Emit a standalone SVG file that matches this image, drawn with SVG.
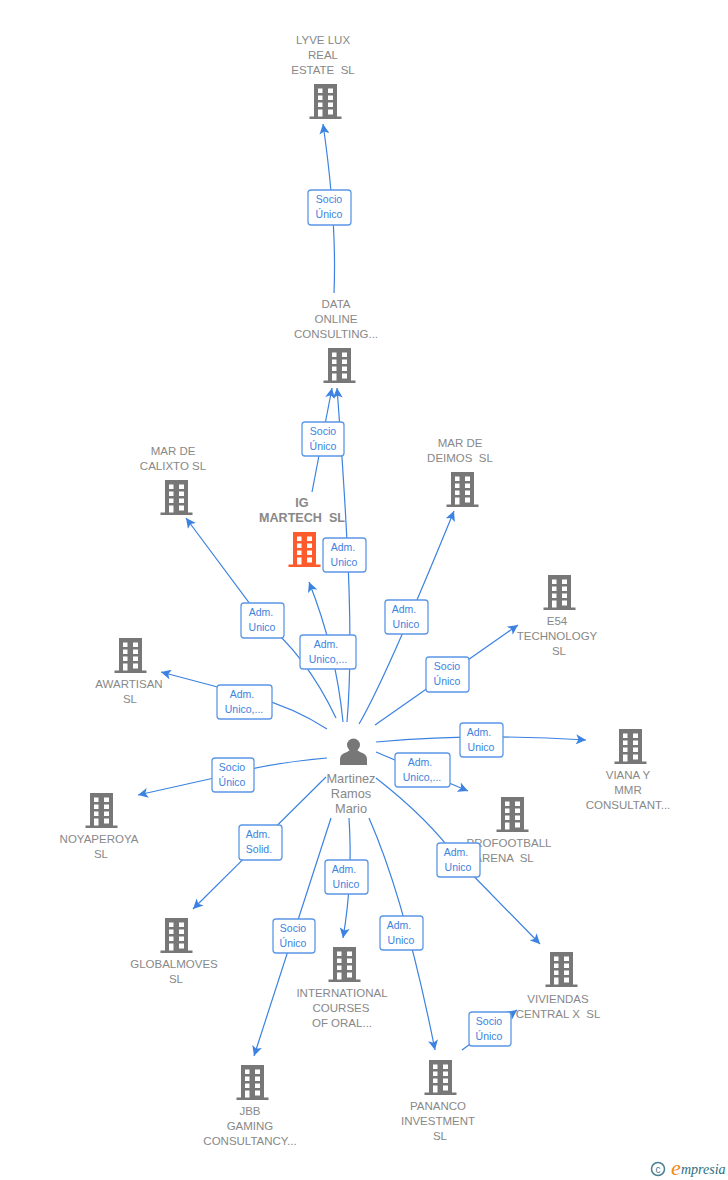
<svg xmlns="http://www.w3.org/2000/svg" xmlns:xlink="http://www.w3.org/1999/xlink" width="728" height="1180" viewBox="0 0 728 1180">
<style>
text{font-family:"Liberation Sans",Arial,sans-serif;white-space:pre}
.n{font-size:11.5px;fill:#888;text-anchor:middle}
.b{font-size:12.6px;fill:#888;font-weight:bold;text-anchor:middle}
.p{font-size:12.8px;fill:#888;text-anchor:middle}
.l{font-size:10.5px;fill:#3c82e0;text-anchor:middle}
.e{fill:none;stroke:#3c82e0;stroke-width:1.2;marker-end:url(#a)}
.x{fill:#fff;stroke:#5b97e6;stroke-width:1.3}
</style>
<defs>
<marker id="a" markerUnits="userSpaceOnUse" markerWidth="12" markerHeight="10" refX="10" refY="5" orient="auto"><path d="M0 0L10 5L0 10L2.5 5Z" fill="#3c82e0"/></marker>
<g id="bd">
<path d="M-11-1H12V31.5H16.500V34H-15.500V31.500H-11Z"/>
<path fill="#fff" d="M-7 3.500H-2.500V8H-7ZM3 3.500H8V8H3ZM-7 10.500H-2.500V15H-7ZM3 10.500H8V15H3ZM-7 17.500H-2.500V22H-7ZM3 17.500H8V22H3ZM-7 24.500H-2.500V31.500H-7ZM3 24.500H8V29.500H3Z"/>
</g>
</defs>
<rect width="728" height="1180" fill="#fff"/>
<g id="n-lyve" fill="#777"><use xlink:href="#bd" href="#bd" x="325" y="85"/><text class="n" x="323" y="44">LYVE LUX</text><text class="n" x="323" y="59">REAL</text><text class="n" x="323" y="74">ESTATE  SL</text></g>
<g id="n-data" fill="#777"><use xlink:href="#bd" href="#bd" x="339" y="349"/><text class="n" x="336" y="308">DATA</text><text class="n" x="336" y="323">ONLINE</text><text class="n" x="336" y="338">CONSULTING...</text></g>
<g id="n-calixto" fill="#777"><use xlink:href="#bd" href="#bd" x="176" y="481"/><text class="n" x="173" y="455">MAR DE</text><text class="n" x="173" y="470">CALIXTO SL</text></g>
<g id="n-deimos" fill="#777"><use xlink:href="#bd" href="#bd" x="462" y="473"/><text class="n" x="460" y="447">MAR DE</text><text class="n" x="460" y="462">DEIMOS  SL</text></g>
<g id="n-ig" fill="#ff5a2b"><use xlink:href="#bd" href="#bd" x="304" y="533"/><text class="b" x="302" y="507">IG</text><text class="b" x="302" y="522">MARTECH  SL</text></g>
<g id="n-e54" fill="#777"><use xlink:href="#bd" href="#bd" x="559" y="576"/><text class="n" x="557" y="625">E54</text><text class="n" x="557" y="640">TECHNOLOGY</text><text class="n" x="559" y="655">SL</text></g>
<g id="n-awartisan" fill="#777"><use xlink:href="#bd" href="#bd" x="130" y="639"/><text class="n" x="129" y="688">AWARTISAN</text><text class="n" x="130" y="703">SL</text></g>
<g id="n-viana" fill="#777"><use xlink:href="#bd" href="#bd" x="630" y="730"/><text class="n" x="628" y="779">VIANA Y</text><text class="n" x="628" y="794">MMR</text><text class="n" x="628" y="809">CONSULTANT...</text></g>
<g id="n-noya" fill="#777"><use xlink:href="#bd" href="#bd" x="101" y="794"/><text class="n" x="99" y="843">NOYAPEROYA</text><text class="n" x="101" y="858">SL</text></g>
<g id="n-profootball" fill="#777"><use xlink:href="#bd" href="#bd" x="512" y="798"/><text class="n" x="509" y="847">PROFOOTBALL</text><text class="n" x="504" y="862">ARENA  SL</text></g>
<g id="n-global" fill="#777"><use xlink:href="#bd" href="#bd" x="176" y="919"/><text class="n" x="174" y="968">GLOBALMOVES</text><text class="n" x="176" y="983">SL</text></g>
<g id="n-intl" fill="#777"><use xlink:href="#bd" href="#bd" x="344" y="948"/><text class="n" x="342" y="997">INTERNATIONAL</text><text class="n" x="341" y="1012">COURSES</text><text class="n" x="342" y="1027">OF ORAL...</text></g>
<g id="n-viviendas" fill="#777"><use xlink:href="#bd" href="#bd" x="561" y="953"/><text class="n" x="558" y="1003">VIVIENDAS</text><text class="n" x="558" y="1018">CENTRAL X  SL</text></g>
<g id="n-jbb" fill="#777"><use xlink:href="#bd" href="#bd" x="252" y="1066"/><text class="n" x="250" y="1115">JBB</text><text class="n" x="250" y="1130">GAMING</text><text class="n" x="250" y="1145">CONSULTANCY...</text></g>
<g id="n-pananco" fill="#777"><use xlink:href="#bd" href="#bd" x="440" y="1061"/><text class="n" x="438" y="1110">PANANCO</text><text class="n" x="438" y="1125">INVESTMENT</text><text class="n" x="440" y="1140">SL</text></g>
<g id="n-person"><circle cx="353.500" cy="745" r="6.500" fill="#777"/><path d="M340 765V759Q340 754 347 752L350 750H357L360 752Q367 754 367 759V765Z" fill="#777"/><text class="p" x="351" y="783">Martinez</text><text class="p" x="351" y="798">Ramos</text><text class="p" x="351" y="813">Mario</text></g>
<g id="connectors">
<path class="e" d="M334 293Q337 220 323 124"/>
<path class="e" d="M312 492L332 388"/>
<path class="e" d="M347 722C353 650 350 560 337 388"/>
<path class="e" d="M343 722Q336 650 309 582"/>
<path class="e" d="M336 718Q306 655 262 620L186 518"/>
<path class="e" d="M359 724Q385 680 454 511"/>
<path class="e" d="M375 725L518 625"/>
<path class="e" d="M327 729Q290 705 244 694L161 672"/>
<path class="e" d="M376 742Q480 733 586 740"/>
<path class="e" d="M376 752L468 791"/>
<path class="e" d="M327 758Q270 763 232 774L138 795"/>
<path class="e" d="M376 778Q430 820 458 860L540 944"/>
<path class="e" d="M326 777L193 909"/>
<path class="e" d="M331 818L254 1056"/>
<path class="e" d="M349 818Q353 880 343 938"/>
<path class="e" d="M369 818Q405 900 435 1050"/>
<path class="e" d="M462 1050L517 1010"/>
<g id="labels">
<rect class="x" x="308" y="190" width="43" height="35" rx="3"/><text class="l" x="329" y="203">Socio</text><text class="l" x="329" y="218">Único</text>
<rect class="x" x="302" y="422" width="42" height="34" rx="3"/><text class="l" x="323" y="435">Socio</text><text class="l" x="323" y="450">Único</text>
<rect class="x" x="323" y="538" width="43" height="34" rx="3"/><text class="l" x="343" y="551">Adm.</text><text class="l" x="344" y="566">Unico</text>
<rect class="x" x="241" y="603" width="43" height="35" rx="3"/><text class="l" x="261" y="616">Adm.</text><text class="l" x="262" y="631">Unico</text>
<rect class="x" x="385" y="600" width="43" height="34" rx="3"/><text class="l" x="404" y="613">Adm.</text><text class="l" x="406" y="628">Unico</text>
<rect class="x" x="300" y="635" width="56" height="34" rx="3"/><text class="l" x="326" y="648">Adm.</text><text class="l" x="328" y="663">Unico,...</text>
<rect class="x" x="217" y="685" width="55" height="34" rx="3"/><text class="l" x="242" y="698">Adm.</text><text class="l" x="244" y="713">Unico,...</text>
<rect class="x" x="426" y="657" width="43" height="35" rx="3"/><text class="l" x="447" y="670">Socio</text><text class="l" x="447" y="685">Único</text>
<rect class="x" x="460" y="723" width="43" height="34" rx="3"/><text class="l" x="479" y="736">Adm.</text><text class="l" x="481" y="751">Unico</text>
<rect class="x" x="395" y="753" width="55" height="34" rx="3"/><text class="l" x="420" y="766">Adm.</text><text class="l" x="422" y="781">Unico,...</text>
<rect class="x" x="212" y="758" width="42" height="34" rx="3"/><text class="l" x="232" y="771">Socio</text><text class="l" x="232" y="786">Único</text>
<rect class="x" x="437" y="843" width="43" height="34" rx="3"/><text class="l" x="456" y="856">Adm.</text><text class="l" x="458" y="871">Unico</text>
<rect class="x" x="239" y="825" width="43" height="35" rx="3"/><text class="l" x="258" y="838">Adm.</text><text class="l" x="259" y="853">Solid.</text>
<rect class="x" x="273" y="919" width="42" height="34" rx="3"/><text class="l" x="293" y="932">Socio</text><text class="l" x="293" y="947">Único</text>
<rect class="x" x="325" y="860" width="43" height="34" rx="3"/><text class="l" x="344" y="873">Adm.</text><text class="l" x="346" y="888">Unico</text>
<rect class="x" x="380" y="916" width="43" height="34" rx="3"/><text class="l" x="399" y="929">Adm.</text><text class="l" x="401" y="944">Unico</text>
<rect class="x" x="469" y="1012" width="42" height="34" rx="3"/><text class="l" x="489" y="1025">Socio</text><text class="l" x="489" y="1040">Único</text>
</g>
</g>
<g id="logo"><circle cx="658" cy="1169" r="6.500" fill="none" stroke="#4a7f93" stroke-width="1.500"/><text x="658" y="1172.500" font-size="10" fill="#4a7f93" text-anchor="middle">c</text><text x="671" y="1175" font-size="22" font-style="italic" fill="#f08a1c" style="font-family:'Liberation Serif',serif">e</text><text x="681" y="1174" font-size="14" font-style="italic" fill="#2d6f80" style="font-family:'Liberation Serif',serif">mpresia</text></g>
</svg>
